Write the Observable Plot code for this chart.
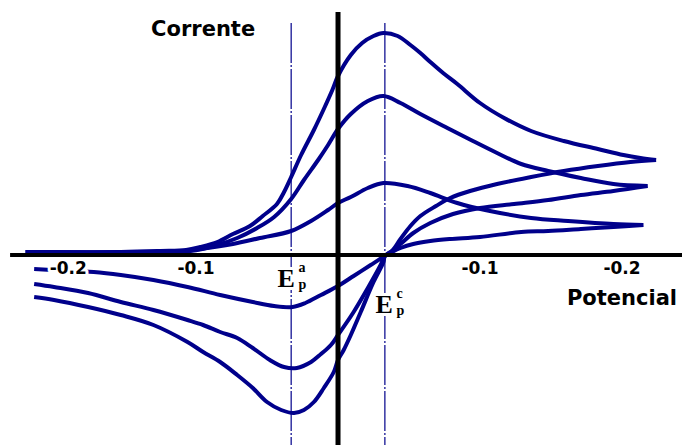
<!DOCTYPE html>
<html>
<head>
<meta charset="utf-8">
<script src="https://cdn.jsdelivr.net/npm/d3@7"></script>
<script src="https://cdn.jsdelivr.net/npm/@observablehq/plot@0.6"></script>
<style>
  html, body { margin: 0; padding: 0; background: #fff; }
</style>
</head>
<body>
<div id="chart"></div>
<script>
// Cyclic voltammograms at three scan rates: potential E (V) and current I (µA)
// Each sweep is split into a forward branch (left to right) and a reverse branch (right to left).

// Fast scan (largest peaks)
const fastForwardE = [-0.220, -0.153, -0.125, -0.107, -0.097, -0.085, -0.074, -0.062, -0.053, -0.043, -0.038, -0.033, -0.026, -0.017, -0.010, -0.004, 0, 0.009, 0.017, 0.025, 0.032, 0.042, 0.051, 0.058, 0.065, 0.074, 0.084, 0.100, 0.117, 0.136, 0.159, 0.183, 0.201, 0.213, 0.224];
const fastForwardI = [0.3, 0.3, 0.4, 0.5, 0.8, 1.3, 2.1, 2.9, 3.9, 5.1, 6.3, 7.8, 10.0, 12.5, 14.6, 16.5, 17.9, 20.0, 21.2, 21.9, 22.2, 21.9, 21.0, 20.2, 19.3, 18.2, 17.1, 15.2, 13.7, 12.4, 11.4, 10.6, 10.0, 9.7, 9.5];
const fastReverseE = [0.224, 0.206, 0.183, 0.159, 0.136, 0.112, 0.093, 0.079, 0.069, 0.058, 0.051, 0.044, 0.038, 0.033, 0.032, 0.025, 0.016, 0.009, 0.004, 0, -0.003, -0.010, -0.017, -0.024, -0.031, -0.040, -0.050, -0.060, -0.071, -0.083, -0.095, -0.106, -0.130, -0.153, -0.176, -0.200, -0.214];
const fastReverseI = [9.5, 9.3, 8.9, 8.4, 7.8, 7.1, 6.4, 5.7, 4.9, 3.9, 2.9, 1.6, 0.4, -0.1, -0.7, -2.7, -5.7, -8.0, -9.5, -10.5, -11.7, -13.3, -14.7, -15.5, -15.8, -15.5, -14.7, -13.3, -12.0, -10.7, -9.7, -8.7, -7.0, -6.0, -5.2, -4.5, -4.2];

// Medium scan
const midForwardE = [-0.220, -0.132, -0.104, -0.085, -0.071, -0.057, -0.045, -0.033, -0.024, -0.014, -0.007, 0, 0.009, 0.021, 0.032, 0.044, 0.058, 0.077, 0.095, 0.112, 0.129, 0.148, 0.171, 0.194, 0.218];
const midForwardI = [0.3, 0.3, 0.4, 1.0, 1.7, 2.7, 3.8, 5.6, 7.5, 9.5, 11.0, 12.6, 14.1, 15.4, 15.9, 15.2, 14.1, 12.7, 11.4, 10.2, 9.1, 8.4, 7.7, 7.1, 6.9];
const midReverseE = [0.218, 0.194, 0.171, 0.148, 0.124, 0.100, 0.081, 0.065, 0.053, 0.044, 0.038, 0.033, 0.030, 0.021, 0.011, 0, -0.005, -0.012, -0.019, -0.029, -0.038, -0.048, -0.060, -0.071, -0.083, -0.095, -0.106, -0.130, -0.153, -0.176, -0.200, -0.214];
const midReverseI = [6.9, 6.4, 6.0, 5.5, 5.1, 4.7, 4.1, 3.2, 2.2, 1.1, 0.4, -0.1, -1.0, -3.3, -5.7, -8.0, -9.0, -9.9, -10.7, -11.3, -11.2, -10.5, -9.3, -8.3, -7.7, -7.0, -6.5, -5.5, -4.7, -3.8, -3.2, -2.9];

// Slow scan (smallest peaks)
const slowForwardE = [-0.220, -0.118, -0.097, -0.074, -0.055, -0.033, -0.019, -0.007, 0, 0.009, 0.021, 0.032, 0.049, 0.065, 0.084, 0.107, 0.136, 0.162, 0.194, 0.215];
const slowForwardI = [0.3, 0.3, 0.6, 1.1, 1.7, 2.4, 3.4, 4.5, 5.2, 5.8, 6.7, 7.2, 6.9, 6.2, 5.2, 4.4, 3.7, 3.4, 3.1, 3.0];
const slowReverseE = [0.215, 0.194, 0.171, 0.148, 0.129, 0.100, 0.079, 0.065, 0.053, 0.044, 0.038, 0.033, 0.023, 0.011, 0, -0.012, -0.023, -0.032, -0.045, -0.060, -0.083, -0.106, -0.130, -0.153, -0.172, -0.200, -0.214];
const slowReverseI = [3.0, 2.8, 2.6, 2.4, 2.3, 1.8, 1.6, 1.4, 1.1, 0.7, 0.3, -0.1, -1.0, -2.1, -3.1, -4.0, -4.8, -5.2, -5.1, -4.7, -4.0, -3.2, -2.5, -2.0, -1.7, -1.5, -1.4];

// Peak potentials (anodic and cathodic) marked by dash-dot guides
const peakPotentials = [-0.033, 0.033];
const peakSuperscripts = ["a", "c"];
const peakLabelE = [-0.0426, 0.0264];
const peakLabelI = [-3.15, -5.75];

// Potential tick labels written along the horizontal axis
const tickAt = [-0.19, -0.1, 0.1, 0.2];
const tickText = ["-0.2", "-0.1", "-0.1", "-0.2"];
const tickLabelI = -1.85;

// Axis titles
const axisTitleText = ["Corrente", "Potencial"];
const axisTitleE = [-0.095, 0.2];
const axisTitleI = [21.95, -4.95];

// Visible window of the plane and the extent of the drawn axes
const eDomain = [-0.2377, 0.2426];
const iDomain = [-19.05, 25.45];
const hAxisStart = -0.2306;
const vAxisTop = 24.25;
const guideTop = 23.15;

const branches = [
  ["fast-fwd", fastForwardE, fastForwardI],
  ["fast-rev", fastReverseE, fastReverseI],
  ["mid-fwd", midForwardE, midForwardI],
  ["mid-rev", midReverseE, midReverseI],
  ["slow-fwd", slowForwardE, slowForwardI],
  ["slow-rev", slowReverseE, slowReverseI]
];
const sweepRows = branches.flatMap(([branch, E, I]) => E.map((e, k) => ({branch, E: e, I: I[k]})));

const peakRows = peakPotentials.map((e, k) => ({
  E: e, sup: peakSuperscripts[k], labelE: peakLabelE[k], labelI: peakLabelI[k]
}));
const tickRows = tickAt.map((e, k) => ({E: e, I: tickLabelI, text: tickText[k]}));
const titleRows = axisTitleText.map((t, k) => ({text: t, E: axisTitleE[k], I: axisTitleI[k]}));

const navy = "#00008b";
const sans = "DejaVu Sans, Verdana, sans-serif";
const serif = "Liberation Serif, Times New Roman, serif";

const chart = Plot.plot({
  width: 682,
  height: 445,
  margin: 0,
  style: {background: "#fff", overflow: "visible"},
  x: {domain: eDomain, axis: null},
  y: {domain: iDomain, axis: null},
  marks: [
    // dash-dot guides through the peak potentials
    Plot.ruleX(peakRows, {
      x: "E", y1: () => guideTop, y2: () => iDomain[0],
      stroke: navy, strokeWidth: 1.2, strokeDasharray: "40,2,2,2"
    }),
    // the voltammograms
    Plot.line(sweepRows, {
      x: "E", y: "I", z: "branch",
      stroke: navy, strokeWidth: 4, curve: "catmull-rom",
      strokeLinejoin: "round", strokeLinecap: "butt"
    }),
    // potential tick labels
    Plot.text(tickRows, {
      x: "E", y: "I", text: "text",
      fontFamily: sans, fontWeight: "bold", fontSize: 17,
      lineAnchor: "bottom", fill: "#000", stroke: "#fff", strokeWidth: 6
    }),
    // axes crossing at the origin
    Plot.ruleY([0], {x1: () => hAxisStart, x2: () => eDomain[1], stroke: "#000", strokeWidth: 4}),
    Plot.ruleX([0], {y1: () => vAxisTop, y2: () => iDomain[0], stroke: "#000", strokeWidth: 5}),
    // peak potential labels: E with subscript p and superscript a / c
    Plot.text(peakRows, {
      x: "labelE", y: "labelI", text: () => "E",
      fontFamily: serif, fontWeight: "bold", fontSize: 26,
      textAnchor: "start", lineAnchor: "bottom",
      fill: "#000", stroke: "#fff", strokeWidth: 6
    }),
    Plot.text(peakRows, {
      x: "labelE", y: "labelI", text: "sup", dx: 21, dy: -15,
      fontFamily: serif, fontWeight: "bold", fontSize: 14,
      textAnchor: "start", lineAnchor: "bottom",
      fill: "#000", stroke: "#fff", strokeWidth: 3
    }),
    Plot.text(peakRows, {
      x: "labelE", y: "labelI", text: () => "p", dx: 21, dy: 2,
      fontFamily: serif, fontWeight: "bold", fontSize: 14,
      textAnchor: "start", lineAnchor: "bottom",
      fill: "#000", stroke: "#fff", strokeWidth: 3
    }),
    // axis titles
    Plot.text(titleRows, {
      x: "E", y: "I", text: "text",
      fontFamily: sans, fontWeight: "bold", fontSize: 21,
      lineAnchor: "bottom", fill: "#000"
    })
  ]
});

document.getElementById("chart").appendChild(chart);
</script>
</body>
</html>
